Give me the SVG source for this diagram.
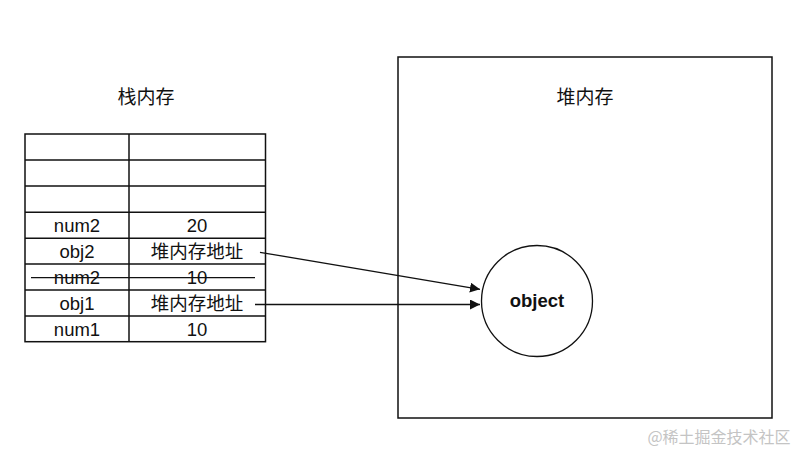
<svg xmlns="http://www.w3.org/2000/svg" width="800" height="450" viewBox="0 0 800 450">
<style>
.t{font-family:"Liberation Sans","Noto Sans CJK SC",sans-serif;font-size:18.5px;fill:#111;text-anchor:middle}
.h{font-family:"Noto Sans CJK SC",sans-serif;font-size:19px;fill:#111;text-anchor:middle}
.ln{stroke:#111;stroke-width:1.5;fill:none}
.c{stroke:#111;stroke-width:1.3;fill:none}
</style>
<defs>
<marker id="ah" viewBox="0 0 10 10" refX="10" refY="5" markerWidth="10" markerHeight="10" markerUnits="userSpaceOnUse" orient="auto">
<path d="M0,0 L10,5 L0,10 z" fill="#111"/>
</marker>
</defs>
<rect width="800" height="450" fill="#fff"/>
<g id="stack">
<text class="h" x="146" y="104">栈内存</text>
<rect class="ln" x="25" y="134" width="240.5" height="207.7"/>
<line class="ln" x1="129" y1="134" x2="129" y2="341.7"/>
<line class="ln" x1="25" y1="160" x2="265.5" y2="160"/>
<line class="ln" x1="25" y1="186" x2="265.5" y2="186"/>
<line class="ln" x1="25" y1="212.3" x2="265.5" y2="212.3"/>
<line class="ln" x1="25" y1="238.3" x2="265.5" y2="238.3"/>
<line class="ln" x1="25" y1="264" x2="265.5" y2="264"/>
<line class="ln" x1="25" y1="290" x2="265.5" y2="290"/>
<line class="ln" x1="25" y1="316" x2="265.5" y2="316"/>
<text class="t" x="77" y="232">num2</text><text class="t" x="197" y="232">20</text>
<text class="t" x="77" y="258">obj2</text><text class="t" x="197" y="258">堆内存地址</text>
<text class="t" x="77" y="284">num2</text><text class="t" x="197" y="284">10</text>
<line class="c" x1="31" y1="277.7" x2="255" y2="277.7"/>
<text class="t" x="77" y="310">obj1</text><text class="t" x="197" y="310">堆内存地址</text>
<text class="t" x="77" y="336">num1</text><text class="t" x="197" y="336">10</text>
</g>
<g id="heap">
<rect class="ln" x="398" y="57" width="374" height="361"/>
<text class="h" x="585" y="104">堆内存</text>
</g>
<g id="object">
<circle class="c" cx="537" cy="301" r="55.5"/>
<text class="t" x="537" y="307" font-weight="bold" font-size="16.5">object</text>
</g>
<g id="connectors">
<line class="c" x1="260" y1="252.3" x2="480" y2="289.3" marker-end="url(#ah)"/>
<line class="c" x1="255" y1="304.5" x2="480" y2="304.5" marker-end="url(#ah)"/>
</g>
<text x="719" y="443" font-family="'Noto Sans CJK SC',sans-serif" font-size="16" fill="#c4c4c4" text-anchor="middle">@稀土掘金技术社区</text>
</svg>
